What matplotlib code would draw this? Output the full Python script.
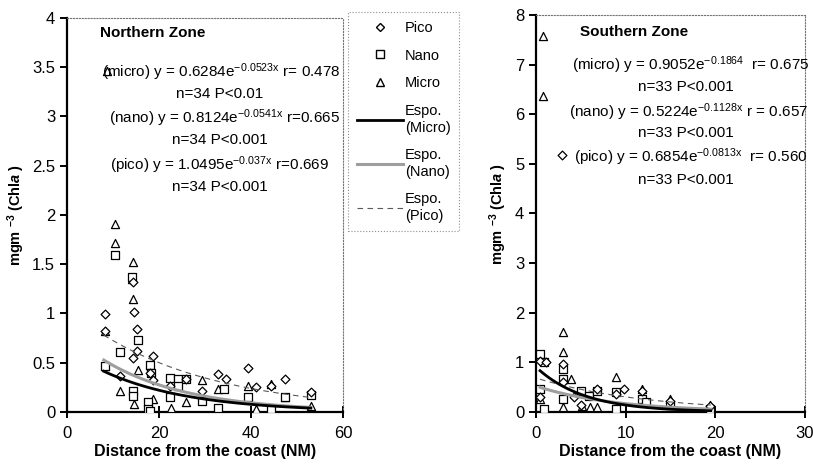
import numpy as np
import matplotlib.pyplot as plt
from matplotlib.lines import Line2D

plt.rcParams['font.family'] = ['Liberation Sans', 'DejaVu Sans']
plt.rcParams['mathtext.fontset'] = 'custom'
plt.rcParams['mathtext.rm'] = 'Liberation Sans'
plt.rcParams['mathtext.bf'] = 'Liberation Sans:bold'
plt.rcParams['mathtext.it'] = 'Liberation Sans:bold:italic'

# Northern zone samples (distance NM, Chl a mg m-3)
n_micro_x = [8.8, 10.5, 10.5, 14.3, 14.1, 14.3, 8.3, 8.3, 11.6, 14.6, 15.5, 18.0, 18.8, 22.6,
             25.9, 29.3, 32.9, 39.3, 41.0, 44.3, 47.4, 53.1]
n_micro_y = [3.46, 1.91, 1.72, 1.52, 1.35, 1.15, 0.82, 0.47, 0.21, 0.08, 0.43, 0.48, 0.13, 0.04,
             0.10, 0.32, 0.23, 0.26, 0.03, 0.28, 0.15, 0.06]
n_nano_x = [10.5, 14.1, 15.5, 11.6, 8.3, 14.3, 14.3, 17.7, 17.7, 18.1, 18.3, 22.4, 24.2, 25.9,
            24.2, 22.4, 29.3, 32.9, 34.2, 39.3, 44.3, 47.4, 53.1, 18.0]
n_nano_y = [1.59, 1.37, 0.73, 0.61, 0.47, 0.21, 0.16, 0.10, 0.03, 0.48, 0.40, 0.35, 0.33, 0.33,
            0.26, 0.15, 0.11, 0.04, 0.23, 0.15, 0.03, 0.15, 0.17, 0.01]
n_pico_x = [8.3, 8.3, 14.3, 14.6, 15.3, 15.3, 14.3, 11.6, 18.8, 18.0, 18.7, 25.9, 29.3, 32.9,
            34.5, 39.3, 41.0, 44.3, 47.4, 53.1, 22.4]
n_pico_y = [0.99, 0.82, 1.32, 1.02, 0.84, 0.62, 0.55, 0.37, 0.57, 0.40, 0.32, 0.33, 0.21, 0.39,
            0.33, 0.45, 0.25, 0.26, 0.34, 0.20, 0.26]

# Southern zone samples
s_micro_x = [0.8, 0.8, 3.0, 3.0, 3.0, 3.9, 8.9, 0.45, 3.0, 5.1, 6.0, 6.8, 11.8, 14.9, 19.4]
s_micro_y = [7.57, 6.37, 1.62, 1.20, 0.67, 0.67, 0.71, 0.27, 0.10, 0.13, 0.11, 0.10, 0.47, 0.27, 0.15]
s_nano_x = [0.5, 0.9, 3.0, 3.0, 0.45, 0.9, 5.0, 5.9, 6.8, 8.9, 11.8, 14.9, 19.4, 3.0, 8.9, 12.3]
s_nano_y = [1.17, 1.00, 0.87, 0.67, 0.47, 0.07, 0.43, 0.33, 0.43, 0.40, 0.27, 0.15, 0.07, 0.27, 0.07, 0.20]
s_pico_x = [2.9, 0.45, 1.1, 3.0, 3.0, 9.8, 6.8, 11.8, 4.2, 0.45, 14.9, 19.4, 5.0, 8.9]
s_pico_y = [5.18, 1.03, 1.00, 0.97, 0.60, 0.47, 0.47, 0.43, 0.30, 0.30, 0.23, 0.13, 0.15, 0.37]

# exponential fits (a, b) for y = a*exp(b*x)
n_fit = {'micro': (0.6284, -0.0523), 'nano': (0.8124, -0.0541), 'pico': (1.0495, -0.037)}
s_fit = {'micro': (0.9052, -0.1864), 'nano': (0.5224, -0.1128), 'pico': (0.6854, -0.0813)}
n_range = (8.0, 53.0)
s_range = (0.45, 19.5)

fig = plt.figure(figsize=(8.13, 4.66), dpi=100)
ax1 = fig.add_axes([0.0824, 0.1159, 0.3395, 0.8455])
ax2 = fig.add_axes([0.6593, 0.1159, 0.3307, 0.8519])

mk = dict(facecolor='white', edgecolor='black', linewidths=0.9, zorder=3)
fit_styles = {'micro': dict(color='black', lw=2.0, ls='-'),
              'nano': dict(color='0.62', lw=2.2, ls='-'),
              'pico': dict(color='0.35', lw=0.8, ls=(0, (5, 4)))}


def draw(ax, mx, my, nx, ny, px, py, fits, xr):
    ax.scatter(mx, my, marker='^', s=34, **mk)
    ax.scatter(nx, ny, marker='s', s=34, **mk)
    ax.scatter(px, py, marker='D', s=20, **mk)
    xs = np.linspace(xr[0], xr[1], 100)
    for k in ['pico', 'nano', 'micro']:
        a, b = fits[k]
        ax.plot(xs, a * np.exp(b * xs), zorder=4, **fit_styles[k])
    for s in ['top', 'right']:
        ax.spines[s].set_color('0.45')
        ax.spines[s].set_linestyle(':')
        ax.spines[s].set_linewidth(0.8)
    for s in ['left', 'bottom']:
        ax.spines[s].set_linewidth(1.6)
    ax.tick_params(axis='x', direction='inout', length=8, width=1.4, labelsize=12, pad=6)
    ax.tick_params(axis='y', direction='out', length=5, width=1.4, labelsize=12)
    ax.set_xlabel('Distance from the coast (NM)', fontsize=11.5, fontweight='bold', labelpad=2)
    ax.set_ylabel(r'mgm $\mathbf{^{-3}}$ (Chl$\mathit{a}$ )', fontsize=10.5, fontweight='bold', labelpad=4)


draw(ax1, n_micro_x, n_micro_y, n_nano_x, n_nano_y, n_pico_x, n_pico_y, n_fit, n_range)
ax1.set_xlim(0, 60)
ax1.set_ylim(0, 4)
ax1.set_xticks([0, 20, 40, 60])
ax1.set_yticks(np.arange(0, 4.01, 0.5))
ax1.set_yticklabels(['0', '0.5', '1', '1.5', '2', '2.5', '3', '3.5', '4'])

draw(ax2, s_micro_x, s_micro_y, s_nano_x, s_nano_y, s_pico_x, s_pico_y, s_fit, s_range)
ax2.set_xlim(0, 30)
ax2.set_ylim(0, 8)
ax2.set_xticks([0, 10, 20, 30])
ax2.set_yticks(range(0, 9))

# equations
eq = dict(transform=fig.transFigure, ha='center', va='center', fontsize=11)
fig.text(100 / 813, 1 - 33 / 466, 'Northern Zone', fontsize=11, fontweight='bold',
         ha='left', va='center', transform=fig.transFigure)
fig.text(221 / 813, 1 - 72 / 466, r'(micro) y = 0.6284e$\mathregular{^{-0.0523x}}$ r= 0.478', **eq)
fig.text(220 / 813, 1 - 94 / 466, 'n=34 P<0.01', **eq)
fig.text(224 / 813, 1 - 118 / 466, r'(nano) y = 0.8124e$\mathregular{^{-0.0541x}}$ r=0.665', **eq)
fig.text(220 / 813, 1 - 140 / 466, 'n=34 P<0.001', **eq)
fig.text(219 / 813, 1 - 165 / 466, r'(pico) y = 1.0495e$\mathregular{^{-0.037x}}$ r=0.669', **eq)
fig.text(220 / 813, 1 - 187 / 466, 'n=34 P<0.001', **eq)

fig.text(580 / 813, 1 - 32 / 466, 'Southern Zone', fontsize=11, fontweight='bold',
         ha='left', va='center', transform=fig.transFigure)
fig.text(691 / 813, 1 - 65 / 466, r'(micro) y = 0.9052e$\mathregular{^{-0.1864}}$  r= 0.675', **eq)
fig.text(686 / 813, 1 - 87 / 466, 'n=33 P<0.001', **eq)
fig.text(688 / 813, 1 - 112 / 466, r'(nano) y = 0.5224e$\mathregular{^{-0.1128x}}$ r = 0.657', **eq)
fig.text(686 / 813, 1 - 133 / 466, 'n=33 P<0.001', **eq)
fig.text(691 / 813, 1 - 157 / 466, r'(pico) y = 0.6854e$\mathregular{^{-0.0813x}}$  r= 0.560', **eq)
fig.text(686 / 813, 1 - 180 / 466, 'n=33 P<0.001', **eq)

handles = [
    Line2D([], [], ls='none', marker='D', ms=4.5, mfc='white', mec='black', mew=1.0),
    Line2D([], [], ls='none', marker='s', ms=6, mfc='white', mec='black', mew=1.0),
    Line2D([], [], ls='none', marker='^', ms=6, mfc='white', mec='black', mew=1.0),
    Line2D([], [], **fit_styles['micro']),
    Line2D([], [], **fit_styles['nano']),
    Line2D([], [], **fit_styles['pico']),
]
labels = ['Pico', 'Nano', 'Micro', 'Espo.\n(Micro)', 'Espo.\n(Nano)', 'Espo.\n(Pico)']
leg = fig.legend(handles, labels, loc='upper left', bbox_to_anchor=(348 / 813, 1 - 12 / 466),
                 bbox_transform=fig.transFigure, fontsize=10.5, frameon=True, fancybox=False,
                 handlelength=3.2, handletextpad=0.1, labelspacing=0.95, borderpad=0.6,
                 borderaxespad=0)
leg.get_frame().set_edgecolor('0.45')
leg.get_frame().set_linewidth(0.8)
leg.get_frame().set_linestyle(':')

fig.savefig('out.png', dpi=100)
